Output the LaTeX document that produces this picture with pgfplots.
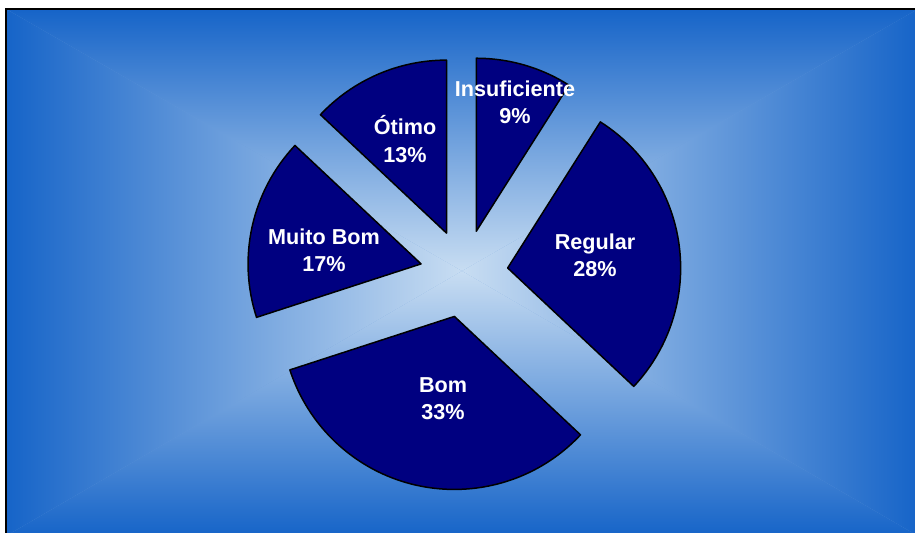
\documentclass[border=0pt]{standalone}
\usepackage{pgfplots}
\usepackage{pgfplotstable}
\pgfplotsset{compat=1.18}
\usepackage{fontspec}
\setmainfont{Liberation Sans}
\definecolor{edgeblue}{RGB}{22,100,200}
\definecolor{centerblue}{RGB}{200,221,242}
\definecolor{midblue}{RGB}{110,160,221}
\definecolor{slice}{RGB}{0,0,128}

% values (percent) and label positions (in px of the 915x533 frame)
\pgfplotstableread[col sep=comma]{
label,pct,lx,ly
Insuficiente,9,515,430.5
Regular,28,595,277.5
Bom,33,443,134.5
Muito Bom,17,324,283
Ótimo,13,405,394
}\piedata

\xdef\cumangle{90}
\pgfplotsforeachungrouped \i in {0,...,4}{%
  \pgfplotstablegetelem{\i}{pct}\of\piedata
  \expandafter\xdef\csname pc\i\endcsname{\pgfplotsretval}%
  \pgfmathsetmacro\endang{\cumangle-3.6*\pgfplotsretval}%
  \pgfmathsetmacro\midang{(\cumangle+\endang)/2}%
  \expandafter\xdef\csname sa\i\endcsname{\cumangle}%
  \expandafter\xdef\csname ea\i\endcsname{\endang}%
  \expandafter\xdef\csname mid\i\endcsname{\midang}%
  \pgfplotstablegetelem{\i}{label}\of\piedata
  \expandafter\xdef\csname lb\i\endcsname{\pgfplotsretval}%
  \pgfplotstablegetelem{\i}{lx}\of\piedata
  \expandafter\xdef\csname lx\i\endcsname{\pgfplotsretval}%
  \pgfplotstablegetelem{\i}{ly}\of\piedata
  \expandafter\xdef\csname ly\i\endcsname{\pgfplotsretval}%
  \xdef\cumangle{\endang}%
}

\begin{document}
\begin{tikzpicture}[
  pieslice/.style={fill=slice, draw=black, line width=0.75pt, line join=round},
  lbl/.style={text=white, align=center, font=\bfseries\fontsize{10.8}{13.6}\selectfont},
]
\begin{axis}[
  at={(0,0)}, anchor=south west,
  width=457.5pt, height=266.5pt, scale only axis,
  xmin=0, xmax=915, ymin=0, ymax=533,
  hide axis, clip=false,
]
\coordinate (SW) at (axis cs:0,0);
\coordinate (NE) at (axis cs:915,533);
% background: rectangular (box) gradient
\fill[midblue] (axis cs:6,524) rectangle (axis cs:918,-3);
\shade[top color=edgeblue, bottom color=centerblue] (axis cs:6,524) -- (axis cs:918,524) -- (axis cs:462,262) -- cycle;
\shade[top color=centerblue, bottom color=edgeblue] (axis cs:6,-3) -- (axis cs:918,-3) -- (axis cs:462,262) -- cycle;
\shade[left color=edgeblue, right color=centerblue] (axis cs:6,524) -- (axis cs:6,-3) -- (axis cs:462,262) -- cycle;
\shade[left color=centerblue, right color=edgeblue] (axis cs:918,524) -- (axis cs:918,-3) -- (axis cs:462,262) -- cycle;
\draw[black, line width=1pt] (axis cs:6,-3) -- (axis cs:6,524) -- (axis cs:918,524);
% exploded pie
\pgfplotsinvokeforeach{0,...,4}{%
  \edef\temp{\noexpand\filldraw[pieslice]
    ([shift={(\csname mid#1\endcsname:22pt)}]axis cs:464,259.5)
    -- ++(\csname sa#1\endcsname:86.5pt)
    arc[start angle=\csname sa#1\endcsname, end angle=\csname ea#1\endcsname, radius=86.5pt]
    -- cycle;}%
  \temp
  \edef\temp{\noexpand\node[lbl] at (axis cs:\csname lx#1\endcsname,\csname ly#1\endcsname)
    {\csname lb#1\endcsname\noexpand\\\csname pc#1\endcsname\noexpand\%};}%
  \temp
}
\end{axis}
\pgfresetboundingbox
\path[use as bounding box] (SW) rectangle (NE);
\end{tikzpicture}
\end{document}
